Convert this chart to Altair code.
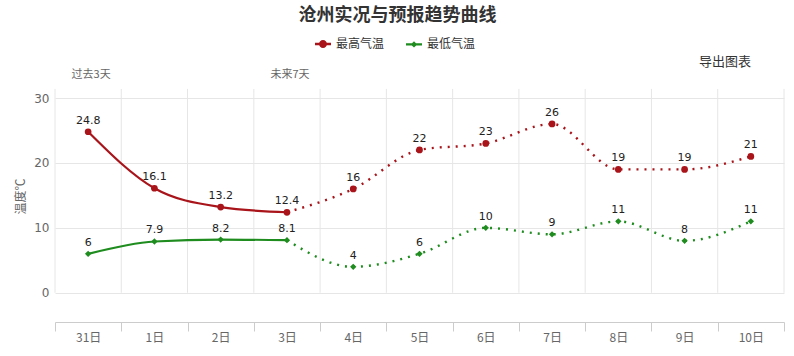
import json
import altair as alt
import pandas as pd

# ---------------- data ----------------
days = ["31日", "1日", "2日", "3日", "4日", "5日", "6日", "7日", "8日", "9日", "10日"]
high = [24.8, 16.1, 13.2, 12.4, 16, 22, 23, 26, 19, 19, 21]
low = [6, 7.9, 8.2, 8.1, 4, 6, 10, 9, 11, 8, 11]
series_names = ["最高气温", "最低气温"]
series_colors = ["#a8141a", "#1e8c1e"]
series_shapes = ["circle", "diamond"]
series_sizes = [45, 40]
last_observed = 3          # index of 3日: observed up to here, forecast from here
y_ticks = [0, 10, 20, 30]
period_notes = ["过去3天", "未来7天"]
period_note_idx = [0, 3]
export_text = ["导出图表"]
chart_title = "沧州实况与预报趋势曲线"
y_title = "温度℃"

CJK = "Noto Sans CJK SC"

rows = []
for name, vals in zip(series_names, [high, low]):
    for i, (d, v) in enumerate(zip(days, vals)):
        rows.append({"series": name, "idx": i, "day": d, "value": v, "label": f"{v:g}"})
df = pd.DataFrame(rows)

bounds = pd.DataFrame({"b": [i - 0.5 for i in range(len(days) + 1)]})
notes = pd.DataFrame({"note": period_notes, "idx": period_note_idx})
export_df = pd.DataFrame({"t": export_text})

W, H = 729, 224
band = W / len(days)

x_scale = alt.Scale(domain=[-0.5, len(days) - 0.5], nice=False, zero=False)
y_scale = alt.Scale(domain=[-4.5, 30], nice=False, zero=False)

label_expr = "(" + json.dumps(days, ensure_ascii=False) + ")[round(datum.value + 0.5)] || ''"

x_axis = alt.Axis(
    values=list(bounds["b"]), labelExpr=label_expr, labelOffset=band / 2,
    labelAlign="center", labelFlush=False, labelOverlap=False, labelBound=False,
    grid=False, domain=True, domainColor="#cccccc", ticks=True, tickSize=9,
    tickColor="#cccccc", labelColor="#666666", labelFontSize=12, labelFont=CJK,
    labelPadding=1, title=None,
)
y_axis = alt.Axis(
    values=y_ticks, grid=True, gridColor="#e6e6e6", domain=False, ticks=False,
    labelPadding=6, labelColor="#666666", labelFontSize=12, labelFont="DejaVu Sans",
    title=y_title, titleX=-28, titleY=98, titleColor="#666666", titleFontSize=12,
    titleFontWeight="normal", titleFont=CJK,
)

X = lambda f: alt.X(f, scale=x_scale, axis=x_axis)
Y = lambda f: alt.Y(f, scale=y_scale, axis=y_axis)

# vertical grid lines (band boundaries), only over the data range
vgrid = alt.Chart(bounds).mark_rule(color="#e6e6e6", strokeWidth=1).encode(
    x=X("b:Q"),
    y=alt.Y(datum=0, scale=y_scale, axis=y_axis),
    y2=alt.Y2(datum=31.4),
)

layers = [vgrid]
for name, col, shp, sz in zip(series_names, series_colors, series_shapes, series_sizes):
    s = alt.Chart(df).transform_filter(alt.datum.series == name).encode(x=X("idx:Q"), y=Y("value:Q"))
    layers.append(s.transform_filter(f"datum.idx <= {last_observed}").mark_line(
        interpolate="monotone", strokeWidth=2.2, color=col))
    layers.append(s.transform_filter(f"datum.idx >= {last_observed}").mark_line(
        interpolate="monotone", strokeWidth=2.4, strokeDash=[2, 6], color=col))
    layers.append(s.mark_point(filled=True, shape=shp, size=sz, opacity=1, color=col))

labels = alt.Chart(df).mark_text(
    dy=-6, baseline="bottom", fontSize=11, font="DejaVu Sans", color="#222222"
).encode(x=X("idx:Q"), y=Y("value:Q"), text="label:N")
layers.append(labels)

# legend-only layer: line + marker symbols
circle_sym = ("M-1,-0.15 L1,-0.15 L1,0.15 L-1,0.15 Z "
              "M0.5,0 A0.5,0.5 0 1,1 -0.5,0 A0.5,0.5 0 1,1 0.5,0 Z")
diamond_sym = ("M-1,-0.15 L1,-0.15 L1,0.15 L-1,0.15 Z "
               "M0,-0.4 L0.4,0 L0,0.4 L-0.4,0 Z")
leg = dict(
    title=None, orient="none", legendX=259, legendY=-63, direction="horizontal",
    symbolOpacity=1, symbolSize=256, labelFontSize=12, labelFont=CJK,
    labelColor="#333333", labelOffset=4, columnPadding=18,
)
legend_layer = alt.Chart(df).mark_point(filled=True, opacity=0, size=256).encode(
    x=X("idx:Q"), y=Y("value:Q"),
    color=alt.Color("series:N", scale=alt.Scale(domain=series_names, range=series_colors),
                    legend=alt.Legend(**leg)),
    shape=alt.Shape("series:N", scale=alt.Scale(domain=series_names, range=[circle_sym, diamond_sym]),
                    legend=alt.Legend(**leg)),
)
layers.append(legend_layer)

note_layer = alt.Chart(notes).mark_text(
    fontSize=11, font=CJK, color="#666666", dx=3, baseline="middle"
).encode(x=X("idx:Q"), y=alt.value(-23), text="note:N")
layers.append(note_layer)

export_layer = alt.Chart(export_df).mark_text(
    fontSize=13, font=CJK, color="#333333", baseline="middle"
).encode(x=alt.value(670), y=alt.value(-36), text="t:N")
layers.append(export_layer)

chart = alt.layer(*layers).properties(
    width=W, height=H,
    title=alt.TitleParams(
        chart_title, anchor="middle", frame="group", dx=-22, offset=10,
        fontSize=18, fontWeight="bold", font=CJK, color="#333333",
    ),
    autosize=alt.AutoSizeParams(type="none"),
    padding={"left": 55, "top": 98, "right": 10, "bottom": 34},
    background="white",
).configure_view(stroke=None)

chart.save("out.html", embed_options={"renderer": "svg", "actions": False})
